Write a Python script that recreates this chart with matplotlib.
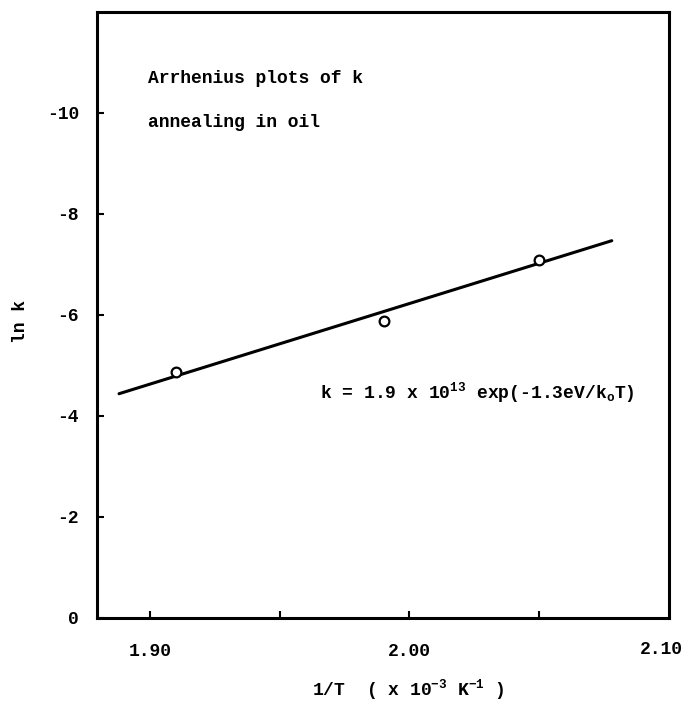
import matplotlib
matplotlib.use('Agg')
import numpy as np
import matplotlib.pyplot as plt

# measured points (1/T in 1e-3 K^-1, ln k as plotted)
inv_T = [1.910, 1.990, 2.050]
ln_k = [-4.87, -5.88, -7.08]

# fitted line end points
fit_x = [1.888, 2.078]
fit_y = [-4.44, -7.47]

xticks = [1.90, 1.95, 2.00, 2.05]
xticklabels = ['1.90', '', '2.00', '']
yticks = [-10, -8, -6, -4, -2, 0]
yticklabels = ['-10', '-8', '-6', '-4', '-2', '0']

plt.rcParams['font.family'] = ['Liberation Mono', 'DejaVu Sans']
plt.rcParams['font.weight'] = 'bold'
plt.rcParams['axes.labelweight'] = 'bold'
plt.rcParams['mathtext.fontset'] = 'custom'
plt.rcParams['mathtext.rm'] = 'Liberation Mono:bold'
plt.rcParams['mathtext.it'] = 'Liberation Mono:bold'
plt.rcParams['mathtext.default'] = 'rm'

fig = plt.figure(figsize=(6.84, 7.03), dpi=100)
ax = fig.add_axes([0.1418, 0.121, 0.836, 0.862])

ax.plot(fit_x, fit_y, color='black', linewidth=2.2, solid_capstyle='round', zorder=2)
ax.plot(inv_T, ln_k, linestyle='none', marker='o', markersize=7,
        mfc='white', mec='black', mew=1.6, zorder=3)

ax.set_xlim(1.8795, 2.10)
ax.set_ylim(0, -12)

ax.set_xticks(xticks)
ax.set_xticklabels(xticklabels)
ax.set_yticks(yticks)
ax.set_yticklabels(yticklabels)
ax.tick_params(direction='in', length=5, width=1.5, labelsize=13)
ax.tick_params(axis='x', pad=18)
ax.tick_params(axis='y', pad=13)
# 2.10 label sits at the right frame edge, shifted left a bit
ax.annotate('2.10', xy=(2.10, 0), xytext=(-5, -23), textcoords='offset points',
            ha='center', va='center', fontsize=13)

for s in ax.spines.values():
    s.set_linewidth(2.2)

ax.text(0.09, 0.882, 'Arrhenius plots of k', transform=ax.transAxes, fontsize=13)
ax.text(0.09, 0.810, 'annealing in oil', transform=ax.transAxes, fontsize=13)
ax.text(0.390, 0.362, r'k = 1.9 x 10$^{13}$ exp(-1.3eV/k$_{o}$T)',
        transform=ax.transAxes, fontsize=13)

ax.set_ylabel('ln k', fontsize=13)
ax.yaxis.set_label_coords(-0.119, 0.49)
ax.set_xlabel(r'1/T  ( x 10$^{-3}$ K$^{-1}$ )', fontsize=13)
ax.xaxis.set_label_coords(0.544, -0.098)

plt.savefig('out.png', dpi=100)
